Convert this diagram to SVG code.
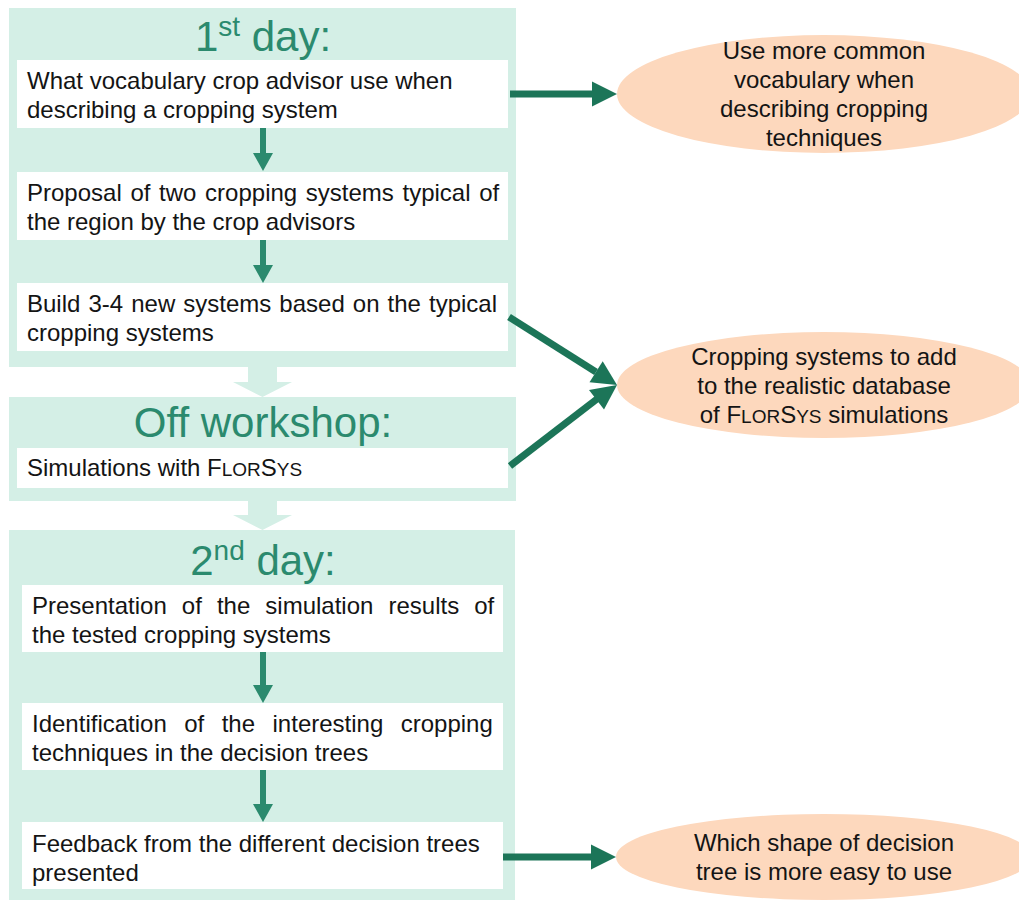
<svg xmlns="http://www.w3.org/2000/svg" width="1019" height="903" viewBox="0 0 1019 903">
<defs>
<style>
.panel{fill:#d4efe6}
.box{fill:#ffffff}
.title{font-family:"Liberation Sans",Arial,sans-serif;font-size:42px;fill:#2b8a6e}
.t{font-family:"Liberation Sans",Arial,sans-serif;font-size:24px;fill:#141414}
.et{font-family:"Liberation Sans",Arial,sans-serif;font-size:24px;fill:#141414;text-anchor:middle}
.ell{fill:#fdd8bd}
.sa{fill:#2b8a6e}
.big{stroke:#1c7558;stroke-width:7;fill:none}
.bighead{fill:#1c7558}
</style>
</defs>
<rect width="1019" height="903" fill="#ffffff"/>

<g id="panel-day1">
<rect class="panel" x="9" y="8" width="507" height="359"/>
<text class="title" x="263" y="51" text-anchor="middle">1<tspan font-size="28" dy="-15">st</tspan><tspan dy="15"> day:</tspan></text>
</g>
<g id="box-vocabulary">
<rect class="box" x="17" y="60" width="491" height="68"/>
<text class="t" x="27" y="89">What vocabulary crop advisor use when</text>
<text class="t" x="27" y="118">describing a cropping system</text>
</g>
<g id="box-proposal">
<rect class="box" x="17" y="172" width="491" height="68"/>
<text class="t" x="27" y="201" word-spacing="2">Proposal of two cropping systems typical of</text>
<text class="t" x="27" y="230">the region by the crop advisors</text>
</g>
<g id="box-build">
<rect class="box" x="17" y="283" width="491" height="68"/>
<text class="t" x="27" y="312" word-spacing="1.4">Build 3-4 new systems based on the typical</text>
<text class="t" x="27" y="341">cropping systems</text>
</g>

<g id="chevron-1">
<path class="panel" d="M248 367 H277 V382 H292 L262.5 397 L233 382 H248 Z"/>
</g>

<g id="panel-off">
<rect class="panel" x="9" y="397" width="507" height="104"/>
<text class="title" x="263" y="437" text-anchor="middle">Off workshop:</text>
</g>
<g id="box-simulations">
<rect class="box" x="17" y="448" width="491" height="40"/>
<text class="t" x="27" y="476">Simulations with F<tspan font-size="19">LOR</tspan>S<tspan font-size="19">YS</tspan></text>
</g>

<g id="chevron-2">
<path class="panel" d="M248 501 H277 V515 H292 L262.5 530 L233 515 H248 Z"/>
</g>

<g id="panel-day2">
<rect class="panel" x="9" y="530" width="506" height="370"/>
<text class="title" x="263" y="575" text-anchor="middle">2<tspan font-size="28" dy="-15">nd</tspan><tspan dy="15"> day:</tspan></text>
</g>
<g id="box-presentation">
<rect class="box" x="22" y="585" width="481" height="67"/>
<text class="t" x="32" y="614" word-spacing="8.4">Presentation of the simulation results of</text>
<text class="t" x="32" y="643">the tested cropping systems</text>
</g>
<g id="box-identification">
<rect class="box" x="22" y="703" width="481" height="67"/>
<text class="t" x="32" y="732" word-spacing="10.8">Identification of the interesting cropping</text>
<text class="t" x="32" y="761">techniques in the decision trees</text>
</g>
<g id="box-feedback">
<rect class="box" x="22" y="822" width="481" height="67"/>
<text class="t" x="32" y="852">Feedback from the different decision trees</text>
<text class="t" x="32" y="881">presented</text>
</g>

<g id="ellipse-vocabulary">
<ellipse class="ell" cx="824" cy="94" rx="207" ry="59"/>
<text class="et" x="824" y="59">Use more common</text>
<text class="et" x="824" y="88">vocabulary when</text>
<text class="et" x="824" y="117">describing cropping</text>
<text class="et" x="824" y="146">techniques</text>
</g>
<g id="ellipse-database">
<ellipse class="ell" cx="824" cy="385" rx="207" ry="53"/>
<text class="et" x="824" y="365">Cropping systems to add</text>
<text class="et" x="824" y="394">to the realistic database</text>
<text class="et" x="824" y="423">of F<tspan font-size="19">LOR</tspan>S<tspan font-size="19">YS</tspan> simulations</text>
</g>
<g id="ellipse-shape">
<ellipse class="ell" cx="824" cy="857" rx="208" ry="43"/>
<text class="et" x="824" y="851">Which shape of decision</text>
<text class="et" x="824" y="880">tree is more easy to use</text>
</g>

<g id="connectors">
<path class="sa" d="M260 128 H266 V153 H273 L263 171 L253 153 H260 Z"/>
<path class="sa" d="M260 240 H266 V265 H273 L263 283 L253 265 H260 Z"/>
<path class="sa" d="M260 652 H266 V685 H273 L263 703 L253 685 H260 Z"/>
<path class="sa" d="M260 770 H266 V804 H273 L263 822 L253 804 H260 Z"/>

<line class="big" x1="510" y1="94" x2="594" y2="94"/>
<path class="bighead" d="M592 81.5 L617 94 L592 106.5 Z"/>

<line class="big" x1="509" y1="317" x2="596" y2="372"/>
<path class="bighead" d="M589.5 382.2 L617 385 L602.7 361.3 Z"/>

<line class="big" x1="510" y1="466" x2="597" y2="399"/>
<path class="bighead" d="M589 390 L617 385 L604 409.5 Z"/>

<line class="big" x1="503" y1="857" x2="594" y2="857"/>
<path class="bighead" d="M591 844.5 L616 857 L591 869.5 Z"/>
</g>
</svg>
